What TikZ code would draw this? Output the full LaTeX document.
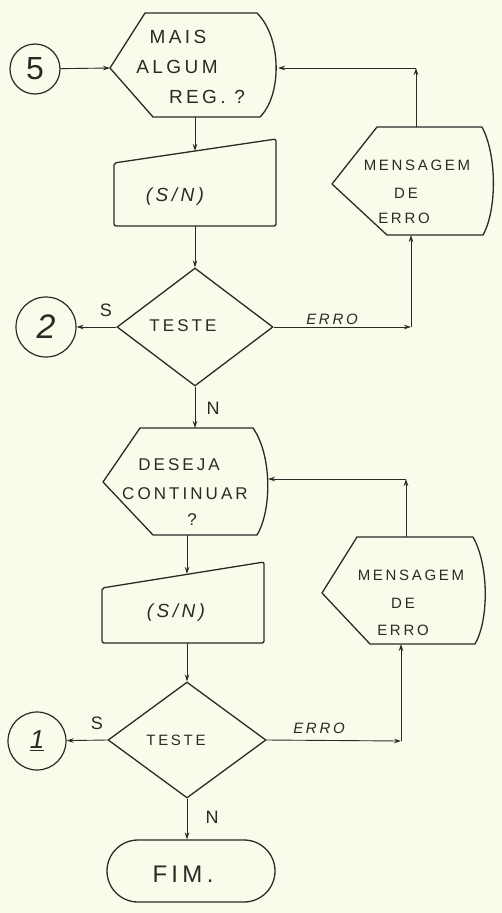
\documentclass[tikz,border=0pt]{standalone}
\usepackage{fontspec}
\setmainfont{Liberation Sans}
\newfontfamily\hand[LetterSpace=18]{Liberation Sans}
\usetikzlibrary{arrows.meta,shapes.geometric}
\definecolor{paper}{RGB}{251,251,236}
\definecolor{ink}{RGB}{42,42,38}
\tikzset{
  outline/.style={draw=ink, line width=1.3pt, line join=round},
  flow/.style={draw=ink, line width=0.9pt, -{Stealth[length=7pt,width=4.5pt]}},
  txt/.style={text=ink, inner sep=0pt, font=\hand\fontsize{#1}{#1}\selectfont},
  conn/.style={circle, draw=ink, line width=1.2pt, inner sep=0pt, text=ink},
  test/.style={diamond, draw=ink, line width=1.3pt, inner sep=0pt},
}
\begin{document}
\begin{tikzpicture}[x=1pt,y=-1pt]
\useasboundingbox (0,0) rectangle (502,913);
\fill[paper] (0,0) rectangle (502,913);

% ---- first block: more records? ----
\node[conn, minimum size=50pt, font=\fontsize{32}{32}\selectfont] (c5) at (35,69) {5};
\draw[outline] (110,68) -- (145,13) -- (257,13) .. controls (282,38) and (282,95) .. (260,117) -- (153,117) -- cycle;
\coordinate (d1w) at (110,68);
\coordinate (d1e) at (278,68);
\coordinate (d1s) at (195,117);
\node[txt=19] (d1a) at (178,37) {MAIS};
\node[txt=19] (d1b) at (177,67) {ALGUM};
\node[txt=19] (d1c) at (207,97) {REG. ?};

\draw[outline, rounded corners=2pt] (114,163) -- (276,139) -- (276,226) -- (114,226) -- cycle;
\coordinate (m1n) at (195,151);
\coordinate (m1s) at (195,226);
\node[txt=19, font=\hand\itshape\fontsize{19}{19}\selectfont] (m1t) at (175,197) {(S/N)};

\node[test, minimum width=156pt, minimum height=118pt] (t1) at (195,327) {};
\node[txt=17] (t1t) at (183,326) {TESTE};
\node[conn, minimum size=60pt, font=\itshape\fontsize{34}{34}\selectfont] (c2) at (46,327) {2};

\draw[outline] (332,184) -- (377,127) -- (482,127) .. controls (497,155) and (497,210) .. (483,235) -- (387,235) -- cycle;
\coordinate (e1n) at (416,127);
\coordinate (e1s) at (411,235);
\node[txt=15] (e1a) at (417,165) {MENSAGEM};
\node[txt=15] (e1b) at (406,193) {DE};
\node[txt=15] (e1c) at (404,218) {ERRO};
\coordinate (k1) at (416,68);
\coordinate (k2) at (411,327);

\draw[flow] (c5) -- (d1w);
\draw[flow] (d1s) -- (m1n);
\draw[flow] (m1s) -- (t1.north);
\draw[flow] (t1.west) -- (c2);
\draw[flow] (t1.east) -- (k2);
\draw[flow] (k2) -- (e1s);
\draw[flow] (e1n) -- (k1);
\draw[flow] (k1) -- (d1e);
\node[txt=18] (s1) at (106,310) {S};
\node[txt=18] (n1) at (213,408) {N};
\node[txt=15, font=\hand\itshape\fontsize{15}{15}\selectfont] (r1) at (332,319) {ERRO};

% ---- second block: continue? ----
\draw[outline] (103,482) -- (140,428) -- (253,428) .. controls (272,455) and (272,510) .. (257,535) -- (153,535) -- cycle;
\coordinate (d2n) at (195,428);
\coordinate (d2e) at (268,479);
\coordinate (d2s) at (187,535);
\node[txt=17] (d2a) at (179,465) {DESEJA};
\node[txt=17] (d2b) at (185,494) {CONTINUAR};
\node[txt=17] (d2c) at (192,520) {?};

\draw[outline, rounded corners=2pt] (102,588) -- (264,562) -- (264,643) -- (102,643) -- cycle;
\coordinate (m2n) at (187,574);
\coordinate (m2s) at (187,643);
\node[txt=19, font=\hand\itshape\fontsize{19}{19}\selectfont] (m2t) at (176,613) {(S/N)};

\draw[outline] (322,593) -- (357,537) -- (473,537) .. controls (489,565) and (489,620) .. (475,644) -- (370,644) -- cycle;
\coordinate (e2n) at (406,537);
\coordinate (e2s) at (401,644);
\node[txt=15] (e2a) at (411,575) {MENSAGEM};
\node[txt=15] (e2b) at (403,603) {DE};
\node[txt=15] (e2c) at (403,630) {ERRO};
\coordinate (k3) at (406,479);
\coordinate (k4) at (401,741);

\node[test, minimum width=158pt, minimum height=116pt] (t2) at (187,740) {};
\node[txt=15] (t2t) at (176,740) {TESTE};
\node[conn, minimum size=58pt, font=\itshape\fontsize{26}{26}\selectfont] (c1) at (37,741) {\underline{1}};

\node[draw=ink, line width=1.3pt, rounded corners=31pt, minimum width=168pt, minimum height=62pt, inner sep=0pt] (fim) at (191,871) {};
\node[txt=24] (fimt) at (183,874) {FIM.};

\draw[flow] (t1.south) -- (d2n);
\draw[flow] (d2s) -- (m2n);
\draw[flow] (m2s) -- (t2.north);
\draw[flow] (t2.west) -- (c1);
\draw[flow] (t2.east) -- (k4);
\draw[flow] (k4) -- (e2s);
\draw[flow] (e2n) -- (k3);
\draw[flow] (k3) -- (d2e);
\draw[flow] (t2.south) -- (t2.south |- fim.north);
\node[txt=18] (s2) at (97,723) {S};
\node[txt=18] (n2) at (212,817) {N};
\node[txt=15, font=\hand\itshape\fontsize{15}{15}\selectfont] (r2) at (319,728) {ERRO};
\end{tikzpicture}
\end{document}
